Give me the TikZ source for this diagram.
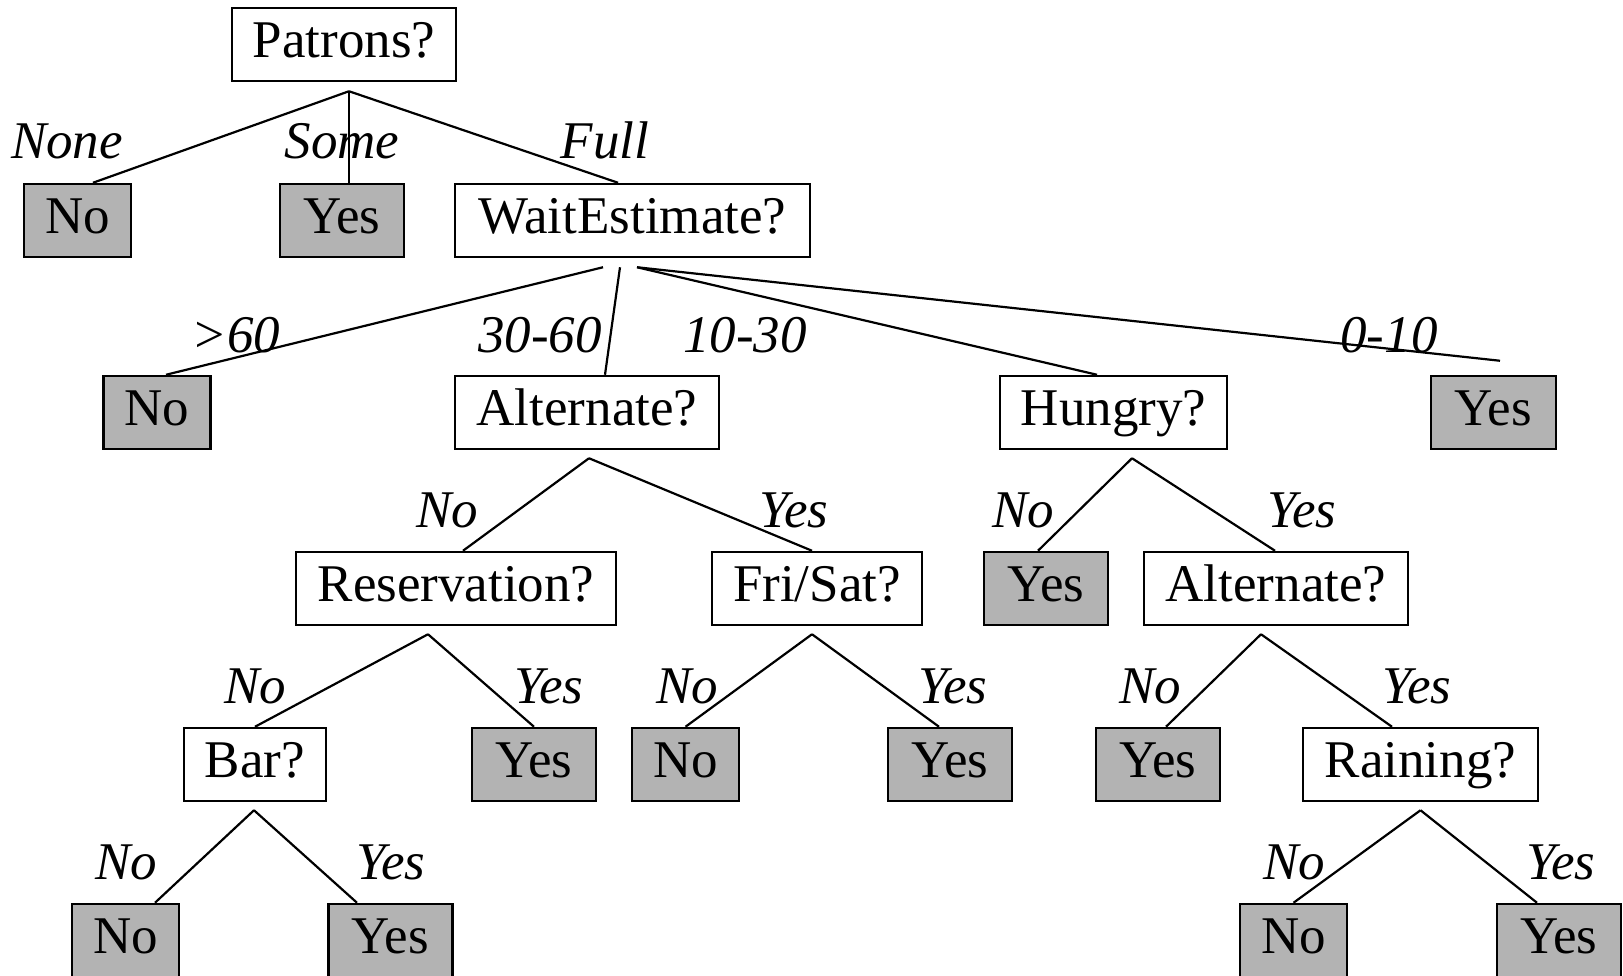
\documentclass[tikz,border=0pt]{standalone}
\usepackage{fontspec}
\setmainfont{Liberation Serif}
\usetikzlibrary{calc}
\definecolor{leafgray}{RGB}{179,179,179}
\begin{document}
\begin{tikzpicture}[x=0.5pt,y=-0.5pt,
  box/.style={draw=black,line width=1.25pt,fill=white,inner sep=0pt,minimum height=36.5pt,text height=19pt,text depth=6pt,font=\fontsize{26.5}{32}\selectfont},
  leaf/.style={box,fill=leafgray},
  lbl/.style={anchor=base,inner sep=0pt,font=\fontsize{26.5}{32}\selectfont\itshape},
  edge/.style={line width=1.1pt}]
\path[use as bounding box] (0,0) rectangle (1623,975);
\clip (0,0) rectangle (1623,975);

% nodes
\node[box,minimum width=112pt] (p) at (344,44.5) {Patrons?};
\node[leaf,minimum width=53.5pt] (n1) at (77.5,220.5) {No};
\node[leaf,minimum width=62pt] (y1) at (342,220.5) {Yes};
\node[box,minimum width=177.5pt] (w) at (632.5,220.5) {WaitEstimate?};
\node[leaf,minimum width=53.5pt] (n2) at (157,412.5) {No};
\node[box,minimum width=132pt] (a1) at (587,412.5) {Alternate?};
\node[box,minimum width=113.5pt] (h) at (1113.5,412.5) {Hungry?};
\node[leaf,minimum width=62.5pt] (y2) at (1493.5,412.5) {Yes};
\node[box,minimum width=160pt] (r) at (456,588.5) {Reservation?};
\node[box,minimum width=105pt] (f) at (817,588.5) {Fri/Sat?};
\node[leaf,minimum width=62pt] (y3) at (1046,588.5) {Yes};
\node[box,minimum width=132pt] (a2) at (1276,588.5) {Alternate?};
\node[box,minimum width=71pt] (b) at (255,764.5) {Bar?};
\node[leaf,minimum width=62pt] (y4) at (534,764.5) {Yes};
\node[leaf,minimum width=53.5pt] (n3) at (685.5,764.5) {No};
\node[leaf,minimum width=62pt] (y5) at (950,764.5) {Yes};
\node[leaf,minimum width=62pt] (y6) at (1158,764.5) {Yes};
\node[box,minimum width=117.5pt] (rn) at (1420.5,764.5) {Raining?};
\node[leaf,minimum width=53.5pt] (n4) at (125.5,940.5) {No};
\node[leaf,minimum width=62pt] (y7) at (390.5,940.5) {Yes};
\node[leaf,minimum width=53.5pt] (n5) at (1293.5,940.5) {No};
\node[leaf,minimum width=62pt] (y8) at (1559,940.5) {Yes};

% branch labels
\node[lbl] (lnone) at (67,158) {None};
\node[lbl] (lsome) at (342,158) {Some};
\node[lbl] (lfull) at (605,158) {Full};
\node[lbl] (lg60) at (236,352) {>60};
\node[lbl] (l3060) at (540,352) {30-60};
\node[lbl] (l1030) at (745,352) {10-30};
\node[lbl] (l010) at (1389,352) {0-10};
\node[lbl] (la1n) at (447,527) {No};
\node[lbl] (la1y) at (794,527) {Yes};
\node[lbl] (lhn) at (1023,527) {No};
\node[lbl] (lhy) at (1302,527) {Yes};
\node[lbl] (lrn) at (255,703) {No};
\node[lbl] (lry) at (549,703) {Yes};
\node[lbl] (lfn) at (687,703) {No};
\node[lbl] (lfy) at (953,703) {Yes};
\node[lbl] (la2n) at (1150,703) {No};
\node[lbl] (la2y) at (1417,703) {Yes};
\node[lbl] (lbn) at (126,879) {No};
\node[lbl] (lby) at (391,879) {Yes};
\node[lbl] (lrnn) at (1294,879) {No};
\node[lbl] (lrny) at (1561,879) {Yes};

% apex coordinates
\coordinate (pa) at ($(p.south)+(5,9)$);
\coordinate (wa1) at ($(w.south)+(-29.5,9)$);
\coordinate (wa2) at ($(w.south)+(-12.5,9)$);
\coordinate (wa3) at ($(w.south)+(4.5,9)$);
\coordinate (a1a) at ($(a1.south)+(2,8)$);
\coordinate (ha) at ($(h.south)+(18.5,8)$);
\coordinate (ra) at ($(r.south)+(-28,8)$);
\coordinate (fa) at ($(f.south)+(-5,8)$);
\coordinate (a2a) at ($(a2.south)+(-15,8)$);
\coordinate (ba) at ($(b.south)+(-1,8)$);
\coordinate (rna) at ($(rn.south)+(0,8)$);
\coordinate (y2e) at ($(y2.north)+(6.5,-14)$);

% connectors
\draw[edge] (pa) -- ($(n1.north)+(15.5,0)$);
\draw[edge] (pa) -- ($(y1.north)+(7,0)$);
\draw[edge] (pa) -- ($(w.north)+(-14.5,0)$);
\draw[edge] (wa1) -- ($(n2.north)+(9,0)$);
\draw[edge] (wa2) -- ($(a1.north)+(18,0)$);
\draw[edge] (wa3) -- ($(h.north)+(-16.5,0)$);
\draw[edge] (wa3) -- (y2e);
\draw[edge] (a1a) -- ($(r.north)+(7,0)$);
\draw[edge] (a1a) -- ($(f.north)+(-5,0)$);
\draw[edge] (ha) -- ($(y3.north)+(-8,0)$);
\draw[edge] (ha) -- ($(a2.north)+(-1,0)$);
\draw[edge] (ra) -- (b.north);
\draw[edge] (ra) -- (y4.north);
\draw[edge] (fa) -- (n3.north);
\draw[edge] (fa) -- ($(y5.north)+(-11,0)$);
\draw[edge] (a2a) -- ($(y6.north)+(8,0)$);
\draw[edge] (a2a) -- ($(rn.north)+(-28.5,0)$);
\draw[edge] (ba) -- ($(n4.north)+(29.5,0)$);
\draw[edge] (ba) -- ($(y7.north)+(-33.5,0)$);
\draw[edge] (rna) -- (n5.north);
\draw[edge] (rna) -- ($(y8.north)+(-22,0)$);
\end{tikzpicture}
\end{document}
